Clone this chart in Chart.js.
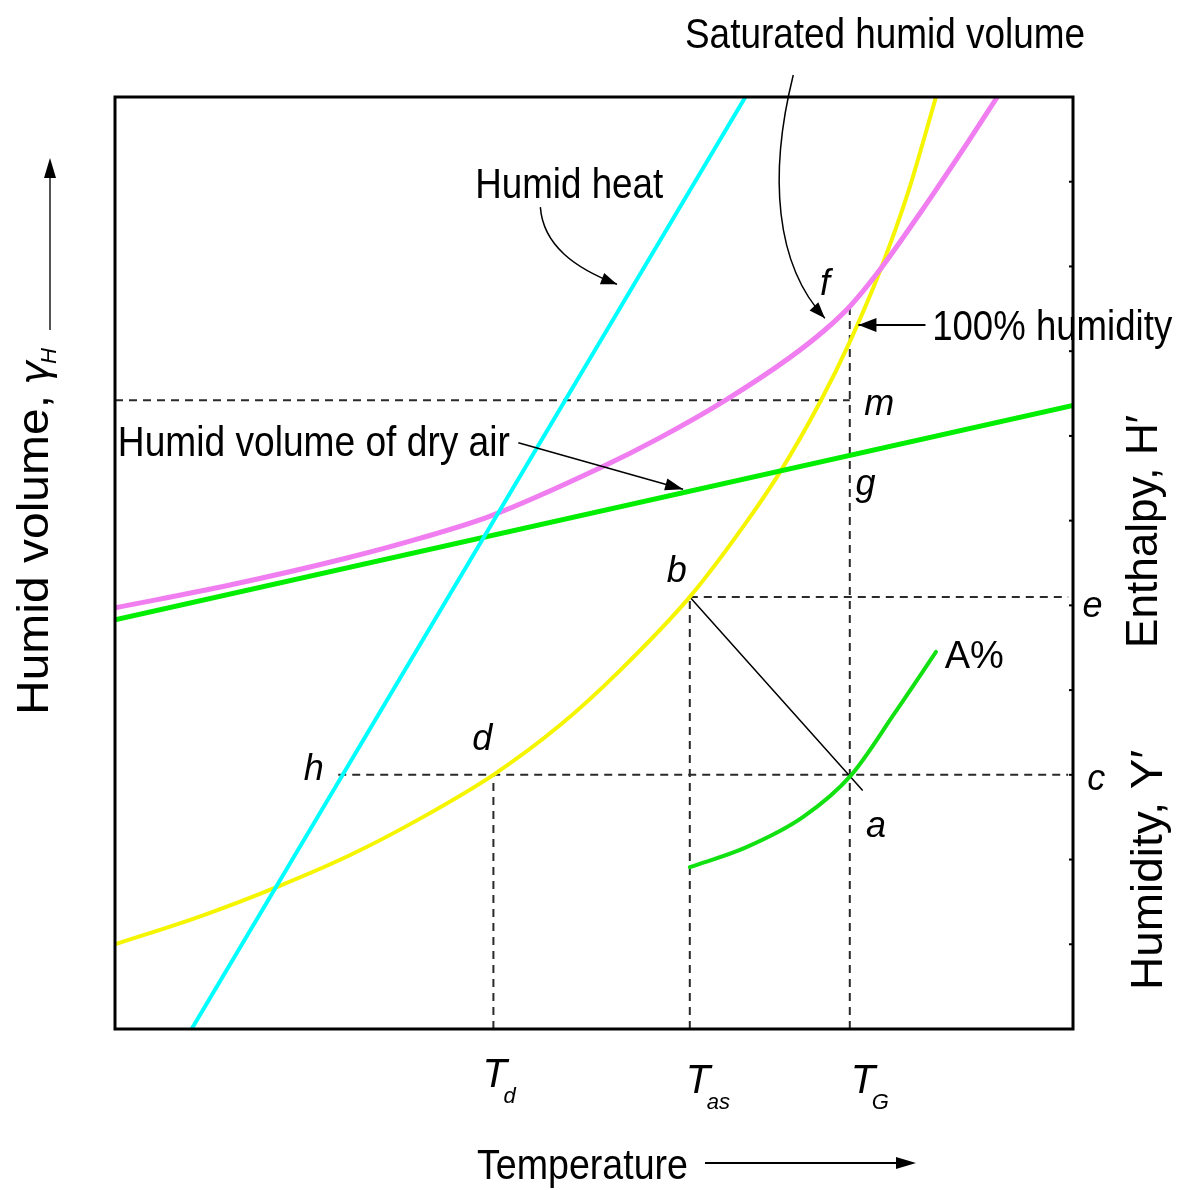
<!DOCTYPE html>
<html>
<head>
<meta charset="utf-8">
<script src="https://cdn.jsdelivr.net/npm/chart.js@4.4.1/dist/chart.umd.min.js"></script>
<style>
  html, body { margin: 0; padding: 0; background: #fff; }
  #wrap { width: 1178px; height: 1190px; }
</style>
</head>
<body>
<div id="wrap"><canvas id="chart"></canvas></div>
<script>
// key temperatures (arbitrary units, axis runs 0..100)
const tDew = 39.5;
const tAdiabatic = 60.0;
const tGas = 76.7;

// key levels (arbitrary units, axis runs 0..110)
const yC = 30.0;
const yE = 51.0;
const yM = 74.2;
const yF = 85.8;
const rightTicks = [10, 20, 30, 40, 50, 60, 70, 80, 90, 100];

// humid heat (straight)
const humidHeatX = [8.0, 65.8];
const humidHeatY = [0, 110];

// humid volume of dry air (straight)
const dryAirX = [0, 100];
const dryAirY = [48.3, 73.6];

// saturated humid volume
const satVolX = [0, 12.0, 23.9, 31.8, 39.1, 50.6, 56.9, 63.7, 70.5, 74.1, 76.8, 79.5, 84.1, 89.1, 92.1];
const satVolY = [49.7, 52.4, 55.5, 57.9, 60.5, 66.2, 69.8, 74.2, 79.3, 82.5, 85.4, 89.1, 96.4, 104.8, 110];

// 100% humidity curve
const satHumX = [0, 8.9, 17.2, 24.5, 31.8, 39.5, 46.5, 52.7, 60.0, 65.2, 69.4, 73.6, 76.7, 79.9, 82.8, 85.7];
const satHumY = [10.0, 13.3, 16.9, 20.5, 24.8, 30.0, 35.9, 42.3, 51.0, 58.7, 65.7, 74.0, 81.1, 89.6, 98.8, 110];

// A% humidity curve
const pctHumX = [60.0, 65.8, 71.8, 76.8, 81.4, 85.7];
const pctHumY = [19.1, 21.4, 25.0, 29.9, 37.3, 44.5];

// adiabatic saturation line b -> a
const adiabX = [60.0, 78.0];
const adiabY = [51.0, 28.2];

function pts(xs, ys) {
    return xs.map((x, i) => ({ x: x, y: ys[i] }));
}

function dashed(xs, ys) {
    return {
        data: pts(xs, ys),
        borderColor: '#2a2a2a',
        borderWidth: 2,
        borderDash: [8, 6],
        pointRadius: 0,
        fill: false,
        tension: 0
    };
}

function curve(xs, ys, color, width, smooth) {
    return {
        data: pts(xs, ys),
        borderColor: color,
        borderWidth: width,
        pointRadius: 0,
        fill: false,
        cubicInterpolationMode: smooth ? 'monotone' : 'default',
        tension: 0,
        borderCapStyle: 'round',
        borderJoinStyle: 'round'
    };
}

const SANS = "'Liberation Sans', Arial, sans-serif";

function fitText(ctx, str, x, y, width, font, rot) {
    ctx.save();
    ctx.font = font;
    const w = ctx.measureText(str).width;
    ctx.translate(x, y);
    if (rot) ctx.rotate(rot);
    ctx.scale(width / w, 1);
    ctx.textAlign = 'left';
    ctx.textBaseline = 'alphabetic';
    ctx.fillText(str, 0, 0);
    ctx.restore();
}

function plainText(ctx, str, x, y, font) {
    ctx.font = font;
    ctx.textAlign = 'left';
    ctx.textBaseline = 'alphabetic';
    ctx.fillText(str, x, y);
}

function arrowHead(ctx, x, y, ang, len, half) {
    ctx.save();
    ctx.translate(x, y);
    ctx.rotate(ang);
    ctx.beginPath();
    ctx.moveTo(0, 0);
    ctx.lineTo(-len, -half);
    ctx.lineTo(-len, half);
    ctx.closePath();
    ctx.fill();
    ctx.restore();
}

// letter labels: [text, x, y] in data units (left edge, baseline)
const letters = [
    ['f', 73.6, 86.6], ['m', 78.2, 72.5], ['g', 77.3, 63.0],
    ['b', 57.6, 52.8], ['e', 101.0, 48.6], ['d', 37.3, 32.9],
    ['h', 19.7, 29.4], ['c', 101.5, 28.2], ['a', 78.4, 22.7]
];

const annotate = {
    id: 'annotate',
    afterDatasetsDraw(chart) {
        const { ctx, chartArea: area, scales: { x, y } } = chart;
        const px = v => x.getPixelForValue(v);
        const py = v => y.getPixelForValue(v);
        ctx.save();
        ctx.fillStyle = '#000';
        ctx.strokeStyle = '#000';

        // frame
        ctx.lineWidth = 3;
        ctx.strokeRect(area.left, area.top, area.width, area.height);

        // small inward ticks on the right axis
        ctx.lineWidth = 2;
        rightTicks.forEach(v => {
            ctx.beginPath();
            ctx.moveTo(area.right, py(v));
            ctx.lineTo(area.right - 4, py(v));
            ctx.stroke();
        });

        // letters
        letters.forEach(l => plainText(ctx, l[0], px(l[1]), py(l[2]), 'italic 36px ' + SANS));
        plainText(ctx, 'A%', px(86.6), py(42.6), '38px ' + SANS);

        // callouts
        fitText(ctx, 'Saturated humid volume', px(59.5), py(115.8), 400, '42px ' + SANS);
        fitText(ctx, 'Humid heat', px(37.6), py(98.1), 188, '42px ' + SANS);
        fitText(ctx, '100% humidity', px(85.3), py(81.3), 240, '42px ' + SANS);
        fitText(ctx, 'Humid volume of dry air', px(0.3), py(67.6), 392, '42px ' + SANS);

        ctx.lineWidth = 1.5;
        // humid heat arrow
        let s = [px(44.4), py(97.0)], c1 = [px(44.7), py(92.5)], c2 = [px(48.0), py(89.8)], e = [px(52.4), py(87.9)];
        ctx.beginPath();
        ctx.moveTo(s[0], s[1]);
        ctx.bezierCurveTo(c1[0], c1[1], c2[0], c2[1], e[0], e[1]);
        ctx.stroke();
        arrowHead(ctx, e[0], e[1], Math.atan2(e[1] - c2[1], e[0] - c2[0]), 16, 6);

        // saturated humid volume arrow
        s = [px(70.8), py(112.6)]; c1 = [px(68.2), py(100.8)]; c2 = [px(68.9), py(90.2)]; e = [px(74.1), py(83.9)];
        ctx.beginPath();
        ctx.moveTo(s[0], s[1]);
        ctx.bezierCurveTo(c1[0], c1[1], c2[0], c2[1], e[0], e[1]);
        ctx.stroke();
        arrowHead(ctx, e[0], e[1], Math.atan2(e[1] - c2[1], e[0] - c2[0]), 16, 6);

        // 100% humidity arrow
        ctx.lineWidth = 2;
        ctx.beginPath();
        ctx.moveTo(px(84.6), py(83.1));
        ctx.lineTo(px(77.6), py(83.1));
        ctx.stroke();
        arrowHead(ctx, px(77.6), py(83.1), Math.PI, 18, 7);

        // dry air arrow
        ctx.lineWidth = 1.5;
        const a0 = [px(42.1), py(69.2)], a1 = [px(59.3), py(63.7)];
        ctx.beginPath();
        ctx.moveTo(a0[0], a0[1]);
        ctx.lineTo(a1[0], a1[1]);
        ctx.stroke();
        arrowHead(ctx, a1[0], a1[1], Math.atan2(a1[1] - a0[1], a1[0] - a0[0]), 18, 6);

        // temperature marks under the axis
        const tLabels = [[tDew, 'd', -11, 58], [tAdiabatic, 'as', -4, 64], [tGas, 'G', 1, 64]];
        tLabels.forEach(t => {
            const tx = px(t[0]) + t[2];
            const ty = area.bottom + t[3];
            plainText(ctx, 'T', tx, ty, 'italic 40px ' + SANS);
            plainText(ctx, t[1], tx + 21, ty + 16, 'italic 22px ' + SANS);
        });

        // x axis title and arrow
        fitText(ctx, 'Temperature', 477, area.bottom + 150, 211, '42px ' + SANS);
        ctx.lineWidth = 2;
        ctx.beginPath();
        ctx.moveTo(705, area.bottom + 134);
        ctx.lineTo(900, area.bottom + 134);
        ctx.stroke();
        arrowHead(ctx, 916, area.bottom + 134, 0, 20, 6);

        // left axis title and arrow
        fitText(ctx, 'Humid volume,', 48, 715, 320, '44px ' + SANS, -Math.PI / 2);
        ctx.save();
        ctx.translate(48, 715);
        ctx.rotate(-Math.PI / 2);
        plainText(ctx, '\u03b3', 330, 0, 'italic 40px ' + "'DejaVu Sans', sans-serif");
        plainText(ctx, 'H', 351, 8, 'italic 22px ' + SANS);
        ctx.restore();
        ctx.strokeStyle = '#555';
        ctx.beginPath();
        ctx.moveTo(50, 330);
        ctx.lineTo(50, 175);
        ctx.stroke();
        arrowHead(ctx, 50, 158, -Math.PI / 2, 20, 6);

        // right axis titles
        fitText(ctx, 'Enthalpy, H\u2032', 1157, 648, 233, '44px ' + SANS, -Math.PI / 2);
        fitText(ctx, 'Humidity, Y\u2032', 1162, 990, 240, '44px ' + SANS, -Math.PI / 2);

        ctx.restore();
    }
};

const ctx = document.getElementById('chart').getContext('2d');
window.chart = new Chart(ctx, {
    type: 'line',
    data: {
        datasets: [
            curve(humidHeatX, humidHeatY, '#00ffff', 4, false),
            curve(dryAirX, dryAirY, '#00ee00', 5, false),
            curve(satVolX, satVolY, '#f07ef0', 5, true),
            curve(satHumX, satHumY, '#f5f500', 4, true),
            curve(pctHumX, pctHumY, '#11e011', 4, true),
            curve(adiabX, adiabY, '#000', 1.5, false),
            dashed([0, tGas], [yM, yM]),
            dashed([tGas, tGas], [0, yF]),
            dashed([tAdiabatic, 99.5], [yE, yE]),
            dashed([tAdiabatic, tAdiabatic], [0, yE]),
            dashed([23.3, 99.5], [yC, yC]),
            dashed([tDew, tDew], [0, yC])
        ]
    },
    options: {
        responsive: true,
        maintainAspectRatio: false,
        devicePixelRatio: 1,
        animation: false,
        layout: { padding: { left: 115, right: 105, top: 97, bottom: 161 } },
        plugins: {
            legend: { display: false },
            tooltip: { enabled: false }
        },
        scales: {
            x: { type: 'linear', min: 0, max: 100, display: false },
            y: { type: 'linear', min: 0, max: 110, display: false }
        }
    },
    plugins: [annotate]
});
</script>
</body>
</html>
